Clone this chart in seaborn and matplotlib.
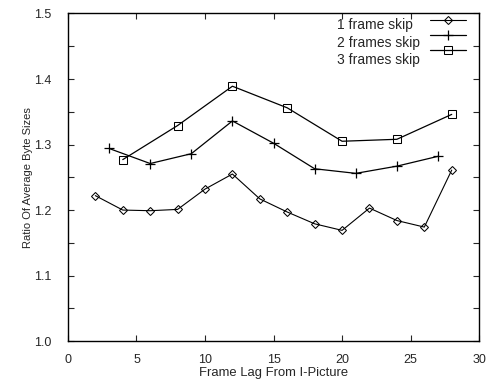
import matplotlib
matplotlib.use("Agg")
import matplotlib.pyplot as plt
from matplotlib.ticker import MultipleLocator, FormatStrFormatter
import seaborn as sns
import pandas as pd

# Frame lag from the I-picture and the measured ratios for each skip setting
lag_1 = [2, 4, 6, 8, 10, 12, 14, 16, 18, 20, 22, 24, 26, 28]
ratio_1 = [1.222, 1.200, 1.199, 1.201, 1.232, 1.255, 1.217, 1.197, 1.179,
           1.169, 1.203, 1.184, 1.174, 1.261]

lag_2 = [3, 6, 9, 12, 15, 18, 21, 24, 27]
ratio_2 = [1.294, 1.271, 1.286, 1.336, 1.302, 1.263, 1.256, 1.267, 1.282]

lag_3 = [4, 8, 12, 16, 20, 24, 28]
ratio_3 = [1.277, 1.329, 1.389, 1.356, 1.305, 1.308, 1.346]

labels = ["1 frame skip", "2 frames skip", "3 frames skip"]

sns.set_style("ticks")
plt.rcParams["font.family"] = ["Liberation Sans", "DejaVu Sans"]

fig = plt.figure(figsize=(4.96, 3.85), dpi=100)
ax = fig.add_axes([0.137, 0.114, 0.829, 0.851])

series = [
    (lag_1, ratio_1, labels[0], dict(marker="D", markersize=3.6, linewidth=0.8)),
    (lag_2, ratio_2, labels[1], dict(marker="+", markersize=7, linewidth=0.9,
                                     markeredgewidth=0.9)),
    (lag_3, ratio_3, labels[2], dict(marker="s", markersize=5.5, linewidth=0.9)),
]
for xs, ys, lab, style in series:
    df = pd.DataFrame({"lag": xs, "ratio": ys})
    sns.lineplot(data=df, x="lag", y="ratio", ax=ax, color="black", label=lab,
                 markerfacecolor="none", markeredgecolor="black", **style)

ax.set_xlim(0, 30)
ax.set_ylim(1.0, 1.5)
ax.xaxis.set_major_locator(MultipleLocator(5))
ax.yaxis.set_major_locator(MultipleLocator(0.1))
ax.yaxis.set_minor_locator(MultipleLocator(0.05))
ax.yaxis.set_major_formatter(FormatStrFormatter("%.1f"))
ax.tick_params(which="both", direction="in", top=True, right=True,
               length=4, width=0.8, labelsize=9)
ax.tick_params(axis="x", pad=9)
ax.tick_params(axis="y", pad=12)
for side in ax.spines.values():
    side.set_linewidth(1.0)
    side.set_color("black")

ax.set_xlabel("Frame Lag From I-Picture", fontsize=9.4, labelpad=1)
ax.set_ylabel("Ratio Of Average Byte Sizes", fontsize=8, labelpad=1)

# Key: left-aligned labels, with the line samples in their own column at right
handles, _ = ax.get_legend_handles_labels()
ax.get_legend().remove()

text_key = ax.legend(handles, labels, loc="upper left",
                     bbox_to_anchor=(0.654, 0.986), frameon=False,
                     fontsize=10, handlelength=0, handletextpad=0,
                     labelspacing=0.26, borderpad=0, borderaxespad=0)
for h in text_key.legend_handles:
    h.set_visible(False)
ax.add_artist(text_key)

ax.legend(handles, ["", "", ""], loc="upper right",
          bbox_to_anchor=(0.968, 1.0), frameon=False, fontsize=10,
          handlelength=2.6, handletextpad=0, labelspacing=0.08,
          borderpad=0, borderaxespad=0)

fig.savefig("out.png", dpi=100)
